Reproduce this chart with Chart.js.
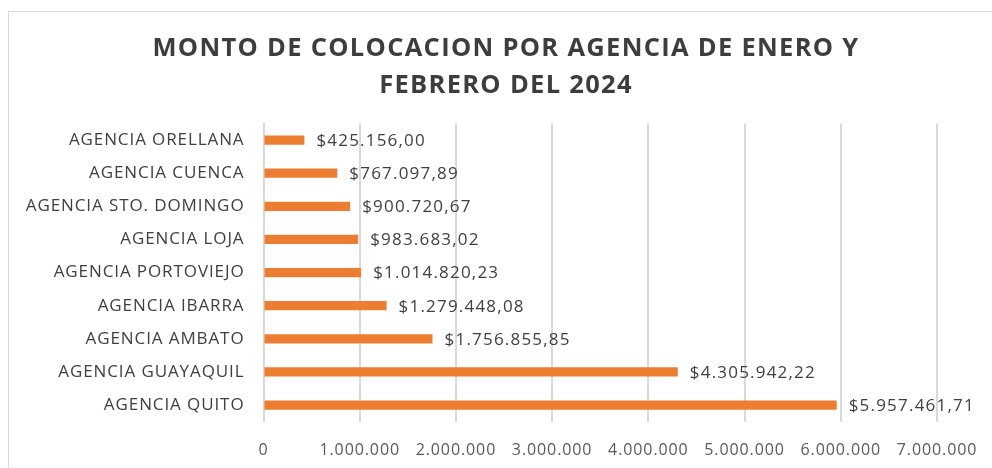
<!DOCTYPE html>
<html>
<head>
<meta charset="utf-8">
<script src="https://cdn.jsdelivr.net/npm/chart.js@4/dist/chart.umd.min.js"></script>
<style>
  html, body { margin: 0; padding: 0; background: #ffffff; }
  #wrap { position: relative; width: 992px; height: 468px; overflow: hidden; }
  #frame { position: absolute; left: 8px; top: 11px; width: 1100px; height: 600px; border: 1.5px solid #d9d9d9; box-sizing: border-box; }
  canvas { position: absolute; left: 0; top: 0; }
</style>
</head>
<body>
<div id="wrap">
  <div id="frame"></div>
  <canvas id="c" width="992" height="468"></canvas>
</div>
<script>
const categories = [
  "AGENCIA ORELLANA",
  "AGENCIA CUENCA",
  "AGENCIA STO. DOMINGO",
  "AGENCIA LOJA",
  "AGENCIA PORTOVIEJO",
  "AGENCIA IBARRA",
  "AGENCIA AMBATO",
  "AGENCIA GUAYAQUIL",
  "AGENCIA QUITO"
];
const montos = [425156.00, 767097.89, 900720.67, 983683.02, 1014820.23, 1279448.08, 1756855.85, 4305942.22, 5957461.71];
const titleLines = ["MONTO DE COLOCACION POR AGENCIA DE ENERO Y", "FEBRERO DEL 2024"];
const xMax = 7000000;
const xStep = 1000000;

function groupDots(intStr) {
  return intStr.replace(/\B(?=(\d{3})+(?!\d))/g, ".");
}
function fmtMoney(v) {
  const parts = v.toFixed(2).split(".");
  return "$" + groupDots(parts[0]) + "," + parts[1];
}

const FONT = "'Open Sans', 'Liberation Sans', sans-serif";

const spacing = {
  id: "spacing",
  beforeLayout(chart) { chart.ctx.letterSpacing = "0.9px"; },
  beforeDraw(chart) { chart.ctx.letterSpacing = "0.9px"; }
};

const titleDraw = {
  id: "titleDraw",
  afterDraw(chart) {
    const ctx = chart.ctx;
    ctx.save();
    ctx.letterSpacing = "1.3px";
    ctx.font = "bold 25.5px " + FONT;
    ctx.fillStyle = "#3d3d3d";
    ctx.textAlign = "center";
    ctx.textBaseline = "alphabetic";
    ctx.fillText(titleLines[0], 506, 55.5);
    ctx.fillText(titleLines[1], 506, 92.5);
    ctx.restore();
  }
};

const valueLabels = {
  id: "valueLabels",
  afterDatasetsDraw(chart) {
    const ctx = chart.ctx;
    const meta = chart.getDatasetMeta(0);
    ctx.save();
    ctx.letterSpacing = "1.2px";
    ctx.font = "17px " + FONT;
    ctx.fillStyle = "#404040";
    ctx.textAlign = "left";
    ctx.textBaseline = "middle";
    meta.data.forEach((bar, i) => {
      ctx.fillText(fmtMoney(montos[i]), bar.x + 12, bar.y + 1);
    });
    ctx.restore();
  }
};

new Chart(document.getElementById("c"), {
  type: "bar",
  data: {
    labels: categories,
    datasets: [{
      data: montos,
      backgroundColor: "#ED7D31",
      borderWidth: 0,
      barPercentage: 0.28,
      categoryPercentage: 1.0
    }]
  },
  options: {
    indexAxis: "y",
    responsive: false,
    animation: false,
    layout: { padding: { left: 8, right: 55, top: 123.5, bottom: 0 } },
    plugins: {
      legend: { display: false },
      tooltip: { enabled: false },
      title: { display: false }
    },
    scales: {
      x: {
        min: 0,
        max: xMax,
        ticks: {
          stepSize: xStep,
          color: "#595959",
          font: { family: FONT, size: 16 },
          padding: 19.6,
          maxRotation: 0,
          callback: (v) => groupDots(String(v))
        },
        grid: { color: "#d9d9d9", lineWidth: 2, drawTicks: false },
        border: { display: false },
        afterFit(scale) {
          scale.height = 46.4;
          scale.paddingLeft = 0;
          scale.paddingRight = 0;
        }
      },
      y: {
        ticks: {
          color: "#404040",
          font: { family: FONT, size: 17 },
          padding: 19
        },
        grid: { display: false, drawTicks: false },
        border: { display: true, color: "#d9d9d9", width: 2 },
        afterFit(scale) { scale.width = 255.5; }
      }
    }
  },
  plugins: [spacing, valueLabels, titleDraw]
});
</script>
</body>
</html>
